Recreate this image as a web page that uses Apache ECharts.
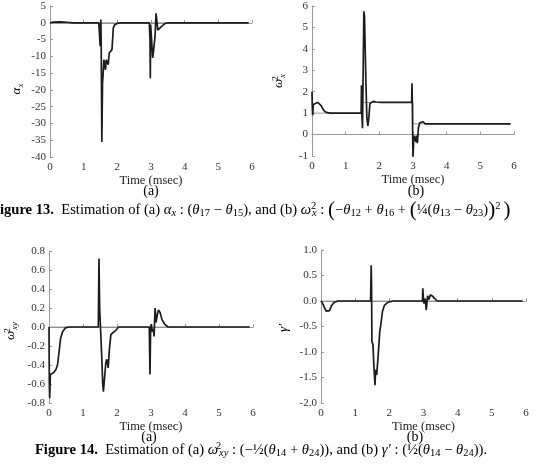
<!DOCTYPE html>
<html><head><meta charset="utf-8">
<script src="https://cdn.jsdelivr.net/npm/echarts@6/dist/echarts.min.js"></script>
<style>html,body{margin:0;padding:0;background:#fff}#c{width:534px;height:464px}</style>
</head><body><div id="c"></div>
<script>
// ---- data (time in msec, value) ----
const alphaX = [[0,0],[0.1,0.2],[0.3,0.25],[0.5,0.15],[0.7,0],[1.45,0],[1.48,-0.5],[1.49,-7],[1.5,-3],[1.51,1],[1.52,-5],[1.54,-35.5],[1.56,-18],[1.58,-15],[1.6,-11],[1.63,-11.5],[1.65,-14],[1.67,-11],[1.7,-11.5],[1.73,-12.5],[1.76,-9],[1.8,-8.5],[1.84,-8],[1.86,-5],[1.88,-1.5],[1.92,-0.6],[2.0,-0.2],[2.1,0],[2.95,0],[2.97,-5],[2.98,-16.5],[2.99,-0.5],[3.02,-1],[3.05,-10.5],[3.08,-8],[3.12,-4],[3.15,2.8],[3.18,0],[3.2,-2.2],[3.25,-1.8],[3.3,-1.2],[3.4,-0.3],[3.5,0],[5.9,0]];
const alphaXTrue = [[0,0],[5.9,0]];
const omegaX = [[0,2.0],[0.01,1.2],[0.02,0.9],[0.04,1.4],[0.07,1.35],[0.1,1.45],[0.13,1.4],[0.17,1.5],[0.22,1.45],[0.27,1.35],[0.32,1.2],[0.38,1.08],[0.45,1.02],[0.55,1.0],[1.46,1.0],[1.47,2.3],[1.48,1.0],[1.5,0.3],[1.52,3.0],[1.54,5.75],[1.56,5.5],[1.6,2.5],[1.63,0.8],[1.66,0.4],[1.69,0.8],[1.72,1.45],[1.77,1.5],[1.82,1.55],[1.86,1.6],[1.9,1.52],[1.95,1.48],[2.05,1.5],[2.96,1.5],[2.97,2.4],[2.98,1.5],[2.99,0.0],[3.0,-1.1],[3.02,-0.3],[3.04,-0.05],[3.07,-0.1],[3.09,-0.35],[3.11,-0.05],[3.13,-0.4],[3.16,0.3],[3.2,0.55],[3.25,0.63],[3.3,0.6],[3.36,0.5],[5.9,0.5]];
const omegaXTrue = [[0,1],[1.5,1],[1.5,1.5],[3,1.5],[3,0.5],[5.9,0.5]];
const omegaXY = [[0,0],[0.01,-0.6],[0.02,-0.75],[0.04,-0.5],[0.08,-0.49],[0.14,-0.48],[0.2,-0.45],[0.25,-0.4],[0.3,-0.25],[0.34,-0.12],[0.4,-0.05],[0.48,-0.01],[0.6,0],[1.45,0],[1.47,0.72],[1.49,0.2],[1.5,0.22],[1.52,-0.05],[1.55,-0.3],[1.58,-0.6],[1.6,-0.68],[1.63,-0.55],[1.67,-0.38],[1.7,-0.34],[1.74,-0.43],[1.78,-0.22],[1.82,-0.08],[1.88,-0.06],[1.95,-0.04],[2.05,0],[2.95,0],[2.97,-0.5],[2.99,0],[3.01,0.03],[3.04,-0.05],[3.07,-0.02],[3.09,-0.1],[3.12,0.2],[3.15,0.05],[3.18,0.12],[3.22,0.18],[3.27,0.15],[3.32,0.08],[3.4,0.03],[3.5,0],[5.9,0]];
const omegaXYTrue = [[0,0],[5.9,0]];
const gammaP = [[0,0],[0.05,-0.05],[0.1,-0.13],[0.15,-0.2],[0.2,-0.22],[0.25,-0.19],[0.3,-0.1],[0.38,-0.03],[0.5,0],[1.45,0],[1.47,0.7],[1.48,0.3],[1.49,-0.8],[1.52,-0.85],[1.55,-1.3],[1.58,-1.65],[1.6,-1.35],[1.63,-1.45],[1.67,-1.1],[1.72,-0.6],[1.76,-0.42],[1.8,-0.2],[1.86,-0.08],[1.95,-0.03],[2.1,0],[2.97,0],[2.98,0.25],[3.0,0],[3.02,-0.05],[3.05,0.05],[3.08,-0.18],[3.12,0.1],[3.16,0.03],[3.2,0.12],[3.26,0.1],[3.32,0.05],[3.4,0],[5.9,0]];
const gammaPTrue = [[0,0],[5.9,0]];
const yRanges = [[-40,5,5],[-1,6,1],[-0.8,0.8,0.2],[-2,1,0.5]];
const xLabel = 'Time (msec)';

const FONT = '"Liberation Serif", "DejaVu Serif", serif';
const grids = [
  {left:50, top:6, width:202, height:151},
  {left:312, top:6, width:202, height:150},
  {left:49, top:251, width:204, height:152},
  {left:321, top:250, width:205, height:153}
];
const decimals = [0,0,1,1];
const xAxes = grids.map((g,i)=>({
  type:'value', gridIndex:i, min:0, max:6, interval:1,
  axisLine:{lineStyle:{color:'#999',width:1}},
  axisTick:{inside:true,length:3,lineStyle:{color:'#999'}},
  splitLine:{show:false},
  axisLabel:{fontFamily:FONT,fontSize:11,color:'#333',margin:5},
  name:xLabel, nameLocation:'middle', nameGap:15,
  nameTextStyle:{fontFamily:FONT,fontSize:12.5,color:'#222'}
}));
const yAxes = grids.map((g,i)=>({
  type:'value', gridIndex:i, min:yRanges[i][0], max:yRanges[i][1], interval:yRanges[i][2],
  axisLine:{show:true,onZero:false,lineStyle:{color:'#999',width:1}},
  axisTick:{show:true,inside:true,length:3,lineStyle:{color:'#999'}},
  splitLine:{show:false},
  axisLabel:{fontFamily:FONT,fontSize:11,color:'#333',margin:4,
    formatter:v=>v.toFixed(decimals[i])}
}));
const est = [alphaX, omegaX, omegaXY, gammaP];
const tru = [alphaXTrue, omegaXTrue, omegaXYTrue, gammaPTrue];
const series = [];
for (let i=0;i<4;i++){
  series.push({type:'line', xAxisIndex:i, yAxisIndex:i, data:tru[i], showSymbol:false, silent:true,
    lineStyle:{color:'#888',width:0.8}, z:1});
  series.push({type:'line', xAxisIndex:i, yAxisIndex:i, data:est[i], showSymbol:false,
    lineStyle:{color:'#1c1c1c',width:1.7}, z:2});
}
const rich = {
  n:{fontFamily:FONT,fontSize:14.6,color:'#222',lineHeight:18},
  b:{fontFamily:FONT,fontSize:14.6,color:'#222',fontWeight:'bold',lineHeight:18},
  i:{fontFamily:FONT,fontSize:14.6,color:'#222',fontStyle:'italic',lineHeight:18},
  s:{fontFamily:FONT,fontSize:10.5,color:'#222',lineHeight:11,verticalAlign:'bottom'},
  si:{fontFamily:FONT,fontSize:10.5,color:'#222',fontStyle:'italic',lineHeight:11,verticalAlign:'bottom'},
  p:{fontFamily:FONT,fontSize:10.5,color:'#222',lineHeight:10,verticalAlign:'top',width:1},
  big:{fontFamily:FONT,fontSize:21,color:'#222',lineHeight:18}
};
const richL = {
  n:{fontFamily:FONT,fontSize:14,color:'#222',lineHeight:18}
};
const richY = {
  i:{fontFamily:FONT,fontSize:13,color:'#222',fontStyle:'italic',lineHeight:16},
  n:{fontFamily:FONT,fontSize:13,color:'#222',lineHeight:16},
  si:{fontFamily:FONT,fontSize:9,color:'#222',fontStyle:'italic',lineHeight:10,verticalAlign:'bottom'},
  p:{fontFamily:FONT,fontSize:9,color:'#222',lineHeight:9,verticalAlign:'top',width:1}
};
const cap1 = '{b|Figure 13.}{n|  Estimation of (a) }{i|α}{si|x}{n| : (}{i|θ}{s|17}{n| − }{i|θ}{s|15}{n|), and (b) }{i|ω}{p|2}{si|x}{n| : }{big|(}{n|−}{i|θ}{s|12}{n| + }{i|θ}{s|16}{n| + }{big|(}{n|¼(}{i|θ}{s|13}{n| − }{i|θ}{s|23}{n|)}{big|)}{p|2}{n|  }{big|)}';
const cap2 = '{b|Figure 14.}{n|  Estimation of (a) }{i|ω}{p|2}{si|xy}{n| : (−½(}{i|θ}{s|14}{n| + }{i|θ}{s|24}{n|)), and (b) }{i|γ′}{n| : (½(}{i|θ}{s|14}{n| − }{i|θ}{s|24}{n|)).}';
function txt(x,y,text,r,extra){
  return Object.assign({type:'text', x:x, y:y, style:{text:text, rich:r||rich, align:'center', verticalAlign:'middle'}}, extra||{});
}
const graphic = [
  txt(151,191,'{n|(a)}',richL),
  txt(416,191,'{n|(b)}',richL),
  txt(149,437,'{n|(a)}',richL),
  txt(415,437,'{n|(b)}',richL),
  {type:'text', x:-9, y:210, style:{text:cap1, rich:rich, align:'left', verticalAlign:'middle'}},
  txt(261,450,cap2,rich),
  txt(17,89,'{i|α}{si|x}',richY,{rotation:Math.PI/2}),
  txt(279,81,'{i|ω}{p|2}{si|x}',richY,{rotation:Math.PI/2}),
  txt(11,331,'{i|ω}{p|2}{si|xy}',richY,{rotation:Math.PI/2}),
  txt(284,328,'{i|γ′}',richY,{rotation:Math.PI/2})
];
const chart = echarts.init(document.getElementById('c'), null, {renderer:'canvas'});
chart.setOption({animation:false, backgroundColor:'#fff', grid:grids, xAxis:xAxes, yAxis:yAxes, series:series, graphic:graphic});
</script></body></html>
